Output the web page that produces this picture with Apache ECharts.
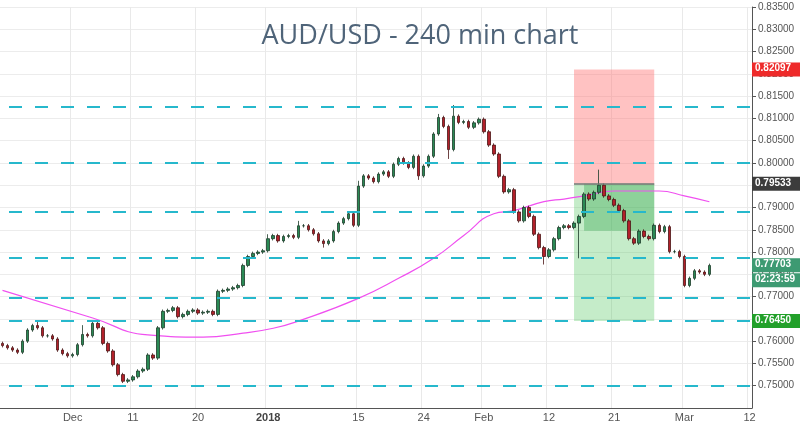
<!DOCTYPE html>
<html><head><meta charset="utf-8">
<script src="https://cdn.jsdelivr.net/npm/echarts@6/dist/echarts.min.js"></script>
<style>html,body{margin:0;padding:0;background:#fff}#c{width:800px;height:423px}</style>
</head><body><div id="c"></div>
<script>
const TITLE = 'AUD/USD - 240 min chart';
const CLOSES = [0.7590,0.7585,0.7580,0.7575,0.7600,0.7625,0.7635,0.7630,0.7612,0.7612,
0.7605,0.7580,0.7572,0.7567,0.7570,0.7592,0.7615,0.7612,0.7640,0.7630,
0.7595,0.7578,0.7547,0.7525,0.7510,0.7513,0.7520,0.7533,0.7537,0.7569,
0.7562,0.7630,0.7667,0.7669,0.7675,0.7655,0.7660,0.7667,0.7670,0.7663,
0.7665,0.7667,0.7660,0.7712,0.7714,0.7717,0.7720,0.7725,0.7770,0.7790,
0.7797,0.7800,0.7803,0.7830,0.7837,0.7825,0.7835,0.7837,0.7833,0.7859,
0.7859,0.7850,0.7841,0.7825,0.7819,0.7825,0.7846,0.7865,0.7875,0.7886,
0.7860,0.7948,0.7971,0.7966,0.7958,0.7975,0.7980,0.7970,0.7997,0.8010,
0.8000,0.7990,0.8015,0.7971,0.7993,0.8015,0.8065,0.8102,0.8082,0.8030,
0.8105,0.8091,0.8093,0.8080,0.8090,0.8098,0.8070,0.8040,0.8020,0.7970,
0.7935,0.7940,0.7890,0.7870,0.7900,0.7880,0.7840,0.7810,0.7790,0.7805,
0.7830,0.7855,0.7859,0.7855,0.7865,0.7880,0.7930,0.7919,0.7934,0.7950,
0.7926,0.7918,0.7905,0.7893,0.7870,0.7830,0.7820,0.7847,0.7835,0.7830,
0.7860,0.7846,0.7857,0.7801,0.7801,0.7790,0.7725,0.7741,0.7758,0.7755,
0.7750,0.7770];
const FIRST_OPEN = 0.7595;
const HIGH_IDX = [7,16,53,71,90,119,87,59];
const HIGH_VAL = [0.7645,0.7636,0.7840,0.7960,0.8130,0.7985,0.8110,0.7870];
const LOW_IDX = [115,89,108,83,64];
const LOW_VAL = [0.7786,0.8009,0.7772,0.7962,0.7810];
const N_CATS = 150;
const LABEL_IDX = [14,26,39,53,71,84,96,109,122,136,149];
const LABEL_TXT = ['Dec','11','20','2018','15','24','Feb','12','21','Mar','12'];
const MA_IDX = [0,18,29,40,48,54,59,71,79,86,92,98,102,108,112,116,122,131,136,141];
const MA_VAL = [0.7714,0.7652,0.7614,0.7609,0.7618,0.7629,0.7645,0.7696,0.7741,0.7786,0.7837,0.7886,0.7893,0.7913,0.7919,0.7926,0.7937,0.7937,0.7926,0.7913];
const LEVELS = [0.8125,0.8000,0.7890,0.7787,0.7697,0.7645,0.7500];
const STOP = 0.82097, ENTRY = 0.79533, TARGET = 0.76450, INNER_LOW = 0.7848, LAST = 0.77703;
const BOX_FROM = 114, BOX_TO = 130, INNER_FROM = 116;
const TIMER = '02:23:59';

const cats = Array.from({length:N_CATS},(_,i)=>String(i));
const candles = CLOSES.map((c,i)=>{
  const o = i===0?FIRST_OPEN:CLOSES[i-1];
  let h = Math.max(o,c)+0.0004, l = Math.min(o,c)-0.0004;
  const hi = HIGH_IDX.indexOf(i); if(hi>=0) h=Math.max(h,HIGH_VAL[hi]);
  const li = LOW_IDX.indexOf(i); if(li>=0) l=Math.min(l,LOW_VAL[li]);
  return [o,c,l,h];
});
const showIdx = (i)=>LABEL_IDX.includes(i);
const chart = echarts.init(document.getElementById('c'));
chart.setOption({
  animation:false,
  title:{text:TITLE,left:415,top:18,textAlign:'center',textStyle:{fontFamily:'Open Sans',fontWeight:'normal',fontSize:27,color:'#4f6479'}},
  grid:{left:0,right:48,top:7,bottom:13},
  xAxis:{type:'category',data:cats,boundaryGap:true,
    axisLine:{lineStyle:{color:'#555'}},axisTick:{show:false},
    axisLabel:{interval:(i)=>showIdx(i),formatter:(v,i)=>{const k=LABEL_IDX.indexOf(Number(v));return k<0?'':(LABEL_TXT[k]==='2018'?'{b|2018}':LABEL_TXT[k]);},
      color:'#555',fontSize:11,margin:4,rich:{b:{fontWeight:'bold',color:'#444',fontSize:11}}},
    splitLine:{show:true,interval:(i)=>showIdx(i),lineStyle:{color:'#e9e9e9'}}},
  yAxis:{type:'value',position:'right',min:0.745,max:0.835,interval:0.005,
    axisLine:{show:true,lineStyle:{color:'#555'}},axisTick:{show:true,length:4,lineStyle:{color:'#555'}},
    axisLabel:{showMinLabel:false,formatter:v=>v.toFixed(5),color:'#555',fontSize:10,margin:6},
    splitLine:{lineStyle:{color:'#ececec'}}},
  series:[
    {type:'line',data:[],symbol:'none',silent:true,z:1,
     markArea:{silent:true,data:[
       [{xAxis:BOX_FROM,yAxis:STOP,itemStyle:{color:'rgba(255,120,120,0.45)'}},{xAxis:BOX_TO,yAxis:ENTRY}],
       [{xAxis:BOX_FROM,yAxis:ENTRY,itemStyle:{color:'rgba(90,200,100,0.35)'}},{xAxis:BOX_TO,yAxis:TARGET}],
       [{xAxis:INNER_FROM,yAxis:ENTRY,itemStyle:{color:'rgba(40,160,70,0.35)'}},{xAxis:BOX_TO,yAxis:INNER_LOW}]
     ]},
     markLine:{silent:true,symbol:'none',precision:5,label:{show:false},
       lineStyle:{color:'#26b8cc',width:2,type:[13,13],dashOffset:-9},
       data:LEVELS.map(v=>({yAxis:v})).concat([[{xAxis:BOX_FROM,yAxis:ENTRY,lineStyle:{color:'#777',width:1.5,type:'solid'}},{xAxis:BOX_TO,yAxis:ENTRY}]])}},
    {type:'candlestick',data:candles,barWidth:3,z:3,
     itemStyle:{color:'#2a8a55',color0:'#b3202a',borderColor:'#1d3b2a',borderColor0:'#4a1515',borderWidth:0.8}},
    {type:'line',data:MA_IDX.map((x,k)=>[x,MA_VAL[k]]),smooth:true,symbol:'none',lineStyle:{color:'#f050f0',width:1.2},z:2}
  ]
});
function tag(v,bg,extra){
  const y = chart.convertToPixel({yAxisIndex:0},v);
  const els=[{type:'rect',shape:{x:752,y:y-7,width:48,height:14},style:{fill:bg},z:10},
    {type:'text',x:755,y:y-6,style:{text:v.toFixed(5),fill:'#fff',font:'bold 10px sans-serif'},z:11}];
  if(extra){els.push({type:'rect',shape:{x:752,y:y+8,width:48,height:14},style:{fill:bg},z:10},
    {type:'text',x:755,y:y+9,style:{text:extra,fill:'#fff',font:'bold 10px sans-serif'},z:11});}
  return els;
}
chart.setOption({graphic:[].concat(tag(STOP,'#ee2a2a'),tag(ENTRY,'#3c3c3c'),tag(LAST,'#3d9a72',TIMER),tag(TARGET,'#22a02a'))});
</script></body></html>
